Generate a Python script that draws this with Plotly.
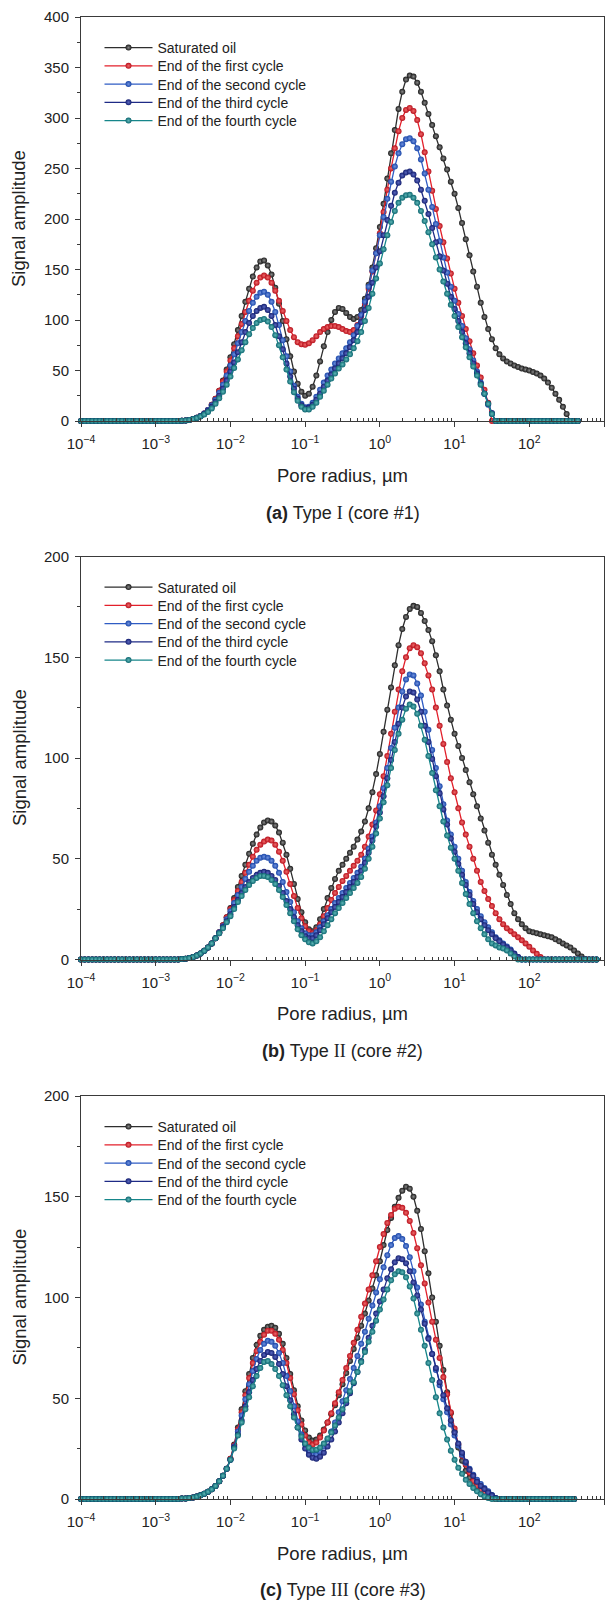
import numpy as np
import plotly.graph_objects as go

# ---------------- sampling grid (pore radius, um): 20 points per decade ----------------
LOG_R = np.round(np.arange(-4.0, 2.9001, 0.05), 2)
RADIUS = 10 ** LOG_R

SERIES_NAMES = ["Saturated oil", "End of the first cycle", "End of the second cycle",
                "End of the third cycle", "End of the fourth cycle"]

X_TICK_EXP = [-4, -3, -2, -1, 0, 1, 2, 3]
X_TICK_TEXT = ["10<sup>−4</sup>", "10<sup>−3</sup>", "10<sup>−2</sup>", "10<sup>−1</sup>",
               "10<sup>0</sup>", "10<sup>1</sup>", "10<sup>2</sup>", "10<sup>3</sup>"]

# ---------------- (a) Type I (core #1)   grid points: 10^-4 ... 10^2.65 ----------------
A_SAT = [0,0,0,0,0,0,0,0,0,0,0,0,0,0,0,0,0,0,0,0,0,0,0,0,0,0,
 0,0.3,0.6,1.1,2,3.3,5,7.5,11,16,22,30,40,51,63,76,90,104,118,131,143,152,158,159,154,145,132,116,99,81,64,49,37,29,25,27,34,45,59,74,88,100,108,112,111,107,103,101,103,110,121,135,152,171,
 192,215,240,265,288,309,326,338,342,341,335,326,315,304,293,282,271,260,249,237,225,211,196,180,164,148,133,117,103,91,81,72,66,62,59,57,55,53.5,52,51,50,48.5,47,45,42,38,33,27,21,14,7,0,0,0]
A_C1 = [0,0,0,0,0,0,0,0,0,0,0,0,0,0,0,0,0,0,0,0,0,0,0,0,0,0,
 0,0.3,0.6,1.1,2,3.3,5,7.5,11,16,22,30,39,49,60,72,84,96,108,119,129,137,142,144,142,137,129,119,109,99,90,83,78,76,75.5,77,80,84,88,91,93,94,94,93,91,89,88,90,95,104,116,131,148,166,
 186,207,229,250,270,287,300,308,310,307,298,284,266,247,228,210,193,177,161,146,131,117,104,91,79,67,55,43,31,18,0,
 0,0,0,0,0,0,0,0,0,0,0,0,0,0,0,0,0,0,0,0,0,0,0]
A_C2 = [0,0,0,0,0,0,0,0,0,0,0,0,0,0,0,0,0,0,0,0,0,0,0,0,0,0,
 0,0.3,0.6,1.1,2,3.3,5,7.5,11,15.5,21,28,36,45,55,66,77,88,99,109,117,123,127,128,125,118,108,95,80,64,49,35,24,17,13.5,14,18,24,31,38,45,51,57,62,67,72,78,85,94,105,118,133,149,166,
 184,202,220,237,252,265,274,279,280,277,270,259,245,229,212,195,178,162,147,133,119,106,94,82,71,60,49,38,27,16,7,
 0,0,0,0,0,0,0,0,0,0,0,0,0,0,0,0,0,0,0,0,0,0,0]
A_C3 = [0,0,0,0,0,0,0,0,0,0,0,0,0,0,0,0,0,0,0,0,0,0,0,0,0,0,
 0,0.3,0.6,1.1,2,3.2,4.8,7,10,14,19,25,32,40,49,58,68,78,88,97,104,109,112,113,110,104,95,84,71,57,44,32,22,15.5,12.5,13,16,21,27,34,40,46,52,57,62,67,73,80,88,98,110,123,137,152,
 168,184,199,213,226,236,243,246,247,244,238,229,218,205,191,177,163,149,136,123,111,99,88,77,67,57,47,37,27,17,8,
 0,0,0,0,0,0,0,0,0,0,0,0,0,0,0,0,0,0,0,0,0,0,0]
A_C4 = [0,0,0,0,0,0,0,0,0,0,0,0,0,0,0,0,0,0,0,0,0,0,0,0,0,0,
 0,0.3,0.6,1.1,1.9,3,4.5,6.5,9,12.5,17,22.5,29,36,44,52.5,61,70,78,86,92,97,100,101,98.5,93,85,75,63,51,39,28.5,20,14,11.5,11.5,14,18,24,30,36,42,47,52,56,61,66,72,79,88,99,112,126,141,
 156,170,184,197,208,216,221,223.5,224,221,216,208,198,187,175,162,150,138,126,115,104,93,83,73,63,54,45,36,27,17,7,
 0,0,0,0,0,0,0,0,0,0,0,0,0,0,0,0,0,0,0,0,0,0,0]

# ---------------- (b) Type II (core #2)   grid points: 10^-4 ... 10^2.90 ----------------
B_SAT = [0,0,0,0,0,0,0,0,0,0,0,0,0,0,0,0,0,0,0,0,0,0,0,0,0,0,
 0,0.2,0.4,0.7,1.2,2,3,4.3,6,8,10.5,13.5,17,21,25.5,30.5,36,41.5,47,52.5,57.5,62,65.5,68,69,68.5,66.5,63,58,52,45,37.5,30,23.5,18.5,15,14,16,20,25,30.5,35.5,40,44,47,50,53,56,59.5,63.5,68.5,75,83,92,
 102,113,124,135,146,156,164,170,174,175.5,175,172,168,163.5,158,151,143,134,126,119,112,106,100,94,88,82,76,70,64,58,52,47,42,37,32,27.5,23,20,17.5,15.5,
 14,13.5,13,12.5,12,11.5,11,10,9,8,7,6,4.5,3,1.5,0.3,0,0,0]
B_C1 = [0,0,0,0,0,0,0,0,0,0,0,0,0,0,0,0,0,0,0,0,0,0,0,0,0,0,
 0,0.2,0.4,0.7,1.2,2,3,4.3,6,8,10.5,13.5,17,21,25,29.5,34,38.5,43,47,51,54.5,57,58.5,59.5,59,57,53.5,49,43.5,37.5,31.5,25.5,20.5,16.5,14,13,14.5,17.5,21.5,25.5,29.5,33,36,39,41.5,44,46.5,49,52,56,61,67,74,
 82,91,101,112,123,134,143,150,154.5,156,155,152,147,141,134,125,116,107,98,90,83,75,68,62,56,50,44,38.5,34,30,26.5,23,20,17.5,15.5,14,12.5,11,9.5,8,
 6.3,4.5,2.8,1.2,0,0,0,0,0,0,0,0,0,0,0,0,0,0]
B_C2 = [0,0,0,0,0,0,0,0,0,0,0,0,0,0,0,0,0,0,0,0,0,0,0,0,0,0,
 0,0.2,0.4,0.7,1.2,2,3,4.3,6,8,10.5,13.5,16.5,20,24,28,32,36,40,43.5,46.5,49,50.5,51,50.5,49,46.5,43,38.5,33.5,28.5,23.5,19,15.5,13,12,12,13.5,16,19,22,25,28,30.5,33,35.5,38,40.5,43,46,50,55,61,68,
 76,85,95,105,115,125,133,139,141.5,141,137,131,123,114,104,95,86,77,69,62,56,50,44,38.5,33.5,29,25,21.5,18.5,16,13.5,11,9.5,8,6.5,5,3,1.3,0,0,
 0,0,0,0,0,0,0,0,0,0,0,0,0,0,0,0,0,0,0]
B_C3 = [0,0,0,0,0,0,0,0,0,0,0,0,0,0,0,0,0,0,0,0,0,0,0,0,0,0,
 0,0.2,0.4,0.7,1.2,2,3,4.3,6,8,10.5,13,16,19,22.5,26,29.5,33,36,38.5,40.5,42,43,43.5,43,41.5,39.5,36.5,33,29,25,21,17,14,11.5,10.5,10.5,12,14.5,17.5,20.5,23.5,26,28.5,31,33.5,36,38.5,41,44,48,53,59,66,
 73,81,90,99,108,117,125,130.5,133,132.5,129,123,116,108,99.5,91,82.5,74.5,67,60,53.5,47.5,42,37,32,27.5,23.5,20,17,14.5,12.5,10.5,9,7.5,6,4.5,2.8,1.2,0,0,
 0,0,0,0,0,0,0,0,0,0,0,0,0,0,0,0,0,0,0]
B_C4 = [0,0,0,0,0,0,0,0,0,0,0,0,0,0,0,0,0,0,0,0,0,0,0,0,0,0,
 0,0.2,0.4,0.7,1.2,2,3,4.3,6,8,10.5,13,15.5,18.5,21.5,25,28.5,31.5,34.5,37,39,40.5,41.5,41.5,41,39.5,37.5,34.5,31,27,23,19,15,12,10,8.5,8,9,11,14,17,20,23,25.5,28,30.5,33,35.5,38,41,45,50,56,62.5,
 70,78,86.5,95,104,112,119,124.5,126.5,125.5,122,116,109,101,92.5,84,76,68.5,61.5,55.5,50,44,38,32.5,27.5,23,19,15.5,12.5,10,8,7,6,5.5,4.5,3,1.5,0,0,0,
 0,0,0,0,0,0,0,0,0,0,0,0,0,0,0,0,0,0,0]

# ---------------- (c) Type III (core #3)   grid points: 10^-4 ... 10^2.60 ----------------
C_SAT = [0,0,0,0,0,0,0,0,0,0,0,0,0,0,0,0,0,0,0,0,0,0,0,0,0,0,
 0,0.2,0.3,0.5,0.8,1.2,1.8,2.6,3.6,4.8,6.5,8.8,11.5,15,20,27,35.5,44.5,53.5,62,70,76.5,81,84,85.5,86,85,82,77,70,62,54,46,39,34,30.5,29,29.5,31.5,34.5,38,42,46.5,51.5,57,62.5,68.5,74.5,80,86,92,98.5,104.5,111,
 118,126,133.5,139.5,145,149.5,153,155,154,150,143,134,123,112,100,88,76,64,53,42.5,33.5,25.5,19,14,10.5,7.5,5.2,3.5,2,1,0.4,0,
 0,0,0,0,0,0,0,0,0,0,0,0,0,0,0,0,0,0,0,0,0]
C_C1 = [0,0,0,0,0,0,0,0,0,0,0,0,0,0,0,0,0,0,0,0,0,0,0,0,0,0,
 0,0.2,0.3,0.5,0.8,1.2,1.8,2.6,3.6,4.8,6.5,8.8,11.5,15,20,26.5,34.5,43,51.5,60,67.5,73.5,78,81.5,83.5,83.5,82,79,74,67.5,60,52,44,37,31.5,28,27,28,30.5,34,38,42.5,47.5,53,59,65,71,77.5,84,90.5,97,104,111,118,
 125,131.5,137,141,144,145,144.5,142,138,132,124.5,116,107,97.5,88,79,70,60.5,52,43,35,27,21.5,17,13,9,6.5,4.5,3,1.5,0.5,0,
 0,0,0,0,0,0,0,0,0,0,0,0,0,0,0,0,0,0,0,0,0]
C_C2 = [0,0,0,0,0,0,0,0,0,0,0,0,0,0,0,0,0,0,0,0,0,0,0,0,0,0,
 0,0.2,0.3,0.5,0.8,1.2,1.8,2.6,3.6,4.8,6.5,8.8,11.5,15,19.5,26,33.5,41.5,49.5,57,63.5,69.5,74,77,78.5,78,76,72.5,67.5,61,53.5,46,38.5,32,27,23.5,22,22,23.5,26,29.5,33.5,38,43,48.5,54,59.5,65,71,77,83,89.5,96,102.5,
 109,115,121,126,129.5,130.5,129,125.5,120,113,105,96.5,88,80,72,64,56.5,49.5,43,37,31.5,26.5,22,18,15,12,9.5,7.5,5.5,3.8,2,0.5,0,
 0,0,0,0,0,0,0,0,0,0,0,0,0,0,0,0,0,0,0,0]
C_C3 = [0,0,0,0,0,0,0,0,0,0,0,0,0,0,0,0,0,0,0,0,0,0,0,0,0,0,
 0,0.2,0.3,0.5,0.8,1.2,1.8,2.6,3.6,4.8,6.5,8.8,11.5,15,19.5,25.5,32,39,46,53,59,64.5,68.5,71.5,73,72.5,70.5,67,62,56,49,42,35.5,29.5,25,22,20.5,20,21,23,26,29.5,33.5,38,42.5,47.5,52.5,57.5,63,68.5,74,80,86,92,
 98,104,109.5,114,117.5,119.5,119,117,113,107.5,101,94,87,79.5,72,65,58,51.5,45,39,33,27.5,23,18.5,14.5,11.5,8.5,6.5,5,3.2,1.8,0.5,0,
 0,0,0,0,0,0,0,0,0,0,0,0,0,0,0,0,0,0,0,0]
C_C4 = [0,0,0,0,0,0,0,0,0,0,0,0,0,0,0,0,0,0,0,0,0,0,0,0,0,0,
 0,0.2,0.3,0.5,0.8,1.2,1.8,2.6,3.6,4.8,6.5,8.8,11.5,15,19.5,25,31.5,38,44.5,50.5,56,61,65,68,68.5,67,64.5,61,56.5,51.5,46,40.5,35.5,31,27.5,25.5,24.3,24.5,25.5,27.5,30,33,36.5,40.5,44.5,49,53.5,58,63,68,73,78,83,88.5,
 94,99,104,108.5,111.5,113,112.5,110,105.5,99.5,92,84,76,67.5,59,50.5,42.5,35.5,29.5,24,19.5,15.5,12.5,9.5,7.5,5.5,3.8,2.4,1.3,0.5,0,
 0,0,0,0,0,0,0,0,0,0,0,0,0,0,0,0,0,0,0,0,0,0]

PANELS = [
    dict(series=[A_SAT, A_C1, A_C2, A_C3, A_C4], ymax=400,
         caption="<b>(a)</b> Type <span style='font-family:Liberation Serif'>I</span> (core #1)"),
    dict(series=[B_SAT, B_C1, B_C2, B_C3, B_C4], ymax=200,
         caption="<b>(b)</b> Type <span style='font-family:Liberation Serif'>II</span> (core #2)"),
    dict(series=[C_SAT, C_C1, C_C2, C_C3, C_C4], ymax=200,
         caption="<b>(c)</b> Type <span style='font-family:Liberation Serif'>III</span> (core #3)"),
]

# ---------------- styling ----------------
W, H = 614, 1600
LINE_COLORS = ["#2e2e2e", "#e3202b", "#2f5cc4", "#1e2b86", "#16868a"]
MARKER_EDGE = ["#1a1a1a", "#b8101c", "#1a46a8", "#141f70", "#0d6670"]
MARKER_CENTER = ["#8a8a8a", "#f06a6a", "#6f92e0", "#5a68c0", "#5fb8b8"]
FONT = "Liberation Sans, Arial, sans-serif"
AX_COLOR = "#3a3a3a"
TXT = "#222222"

X_DOM = [81 / W, 604 / W]
PLOT_PX = [(17, 421), (556.5, 959.5), (1096, 1499)]
XTITLE_PX = [475, 1013.5, 1553]
CAPTION_PX = [513, 1051, 1590]
LEG_FIRST_ROW = 31      # px below plot top
LEG_ROW_STEP = 18.25    # px between legend rows
LEG_X = 99.5            # px
TICK_SIZE = 15

x_major = [10.0 ** e for e in X_TICK_EXP]
x_minor = [m * 10.0 ** e for e in X_TICK_EXP[:-1] for m in range(2, 10)]

fig = go.Figure()
layout = dict(width=W, height=H, margin=dict(l=0, r=0, t=0, b=0, autoexpand=False),
              paper_bgcolor="white", plot_bgcolor="white", showlegend=True,
              font=dict(family=FONT, color=TXT), annotations=[])

leg_index = 0
for p, panel in enumerate(PANELS):
    sfx = "" if p == 0 else str(p + 1)
    xa, ya = "x" + sfx, "y" + sfx
    top, bot = PLOT_PX[p]
    for s, vals in enumerate(panel["series"]):
        leg_index += 1
        lg = "legend" if leg_index == 1 else "legend" + str(leg_index)
        n = len(vals)
        fig.add_trace(go.Scatter(
            x=RADIUS[:n], y=vals, name=SERIES_NAMES[s], mode="lines+markers",
            xaxis=xa, yaxis=ya, legend=lg, cliponaxis=False,
            line=dict(color=LINE_COLORS[s], width=1.3),
            marker=dict(symbol="circle", size=6, color=MARKER_EDGE[s],
                        gradient=dict(type="radial", color=MARKER_CENTER[s]),
                        line=dict(width=0)),
        ))
        row_y = top + LEG_FIRST_ROW + s * LEG_ROW_STEP
        layout[lg] = dict(x=LEG_X / W, y=1 - row_y / H, xanchor="left", yanchor="middle",
                          bgcolor="rgba(0,0,0,0)", borderwidth=0,
                          font=dict(size=14, family=FONT, color=TXT),
                          itemwidth=48)
    ydom = [1 - bot / H, 1 - top / H]
    layout["xaxis" + sfx] = dict(
        domain=X_DOM, anchor=ya, type="log", range=[-4, 3], automargin=False,
        tickmode="array", tickvals=x_major, ticktext=X_TICK_TEXT,
        showline=True, linecolor=AX_COLOR, linewidth=1,
        mirror=True, ticks="outside", ticklen=5, tickcolor=AX_COLOR, tickwidth=1,
        ticklabelstandoff=4,
        tickfont=dict(size=TICK_SIZE, family=FONT, color=TXT), showgrid=False, zeroline=False,
        minor=dict(tickmode="array", tickvals=x_minor, ticks="inside", ticklen=3,
                   tickcolor=AX_COLOR, showgrid=False))
    layout["yaxis" + sfx] = dict(
        domain=ydom, anchor=xa, range=[0, panel["ymax"]], dtick=50, automargin=False,
        showline=True, linecolor=AX_COLOR, linewidth=1, mirror=True,
        ticks="outside", ticklen=5, tickcolor=AX_COLOR, tickwidth=1,
        ticklabelstandoff=3,
        tickfont=dict(size=TICK_SIZE, family=FONT, color=TXT), showgrid=False, zeroline=False,
        minor=dict(ticks="outside", ticklen=3, dtick=25, tickcolor=AX_COLOR, showgrid=False))
    layout["annotations"] += [
        dict(text="Signal amplitude", x=19 / W, y=1 - (top + bot) / 2 / H, xref="paper",
             yref="paper", textangle=-90, showarrow=False, xanchor="center",
             yanchor="middle", font=dict(size=18.5, family=FONT, color=TXT)),
        dict(text="Pore radius, µm", x=342.5 / W, y=1 - XTITLE_PX[p] / H, xref="paper",
             yref="paper", showarrow=False, xanchor="center", yanchor="middle",
             font=dict(size=18.5, family=FONT, color=TXT)),
        dict(text=panel["caption"], x=342.5 / W, y=1 - CAPTION_PX[p] / H, xref="paper",
             yref="paper", showarrow=False, xanchor="center", yanchor="middle",
             font=dict(size=18, family=FONT, color=TXT)),
    ]

fig.update_layout(**layout)
fig.write_html("out.html")
